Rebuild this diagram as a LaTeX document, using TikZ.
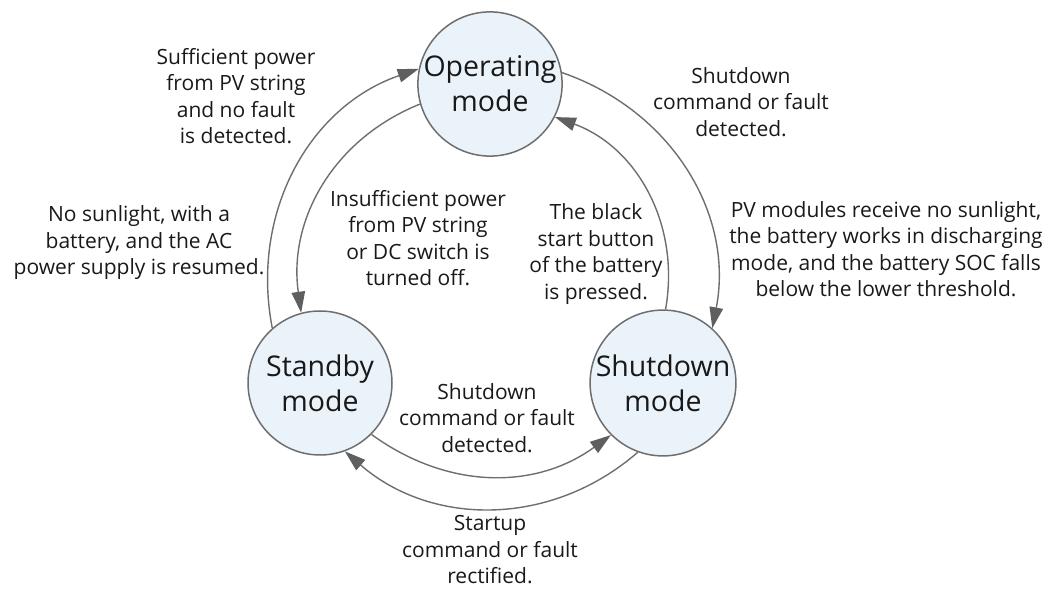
\documentclass[tikz,border=0pt]{standalone}
\usepackage{fontspec}
\setmainfont{Open Sans}
\usetikzlibrary{arrows.meta}
\definecolor{linegray}{RGB}{110,110,110}
\definecolor{tipgray}{RGB}{95,95,95}
\definecolor{circfill}{RGB}{235,243,250}
\definecolor{txt}{RGB}{25,25,25}
\begin{document}
\begin{tikzpicture}[x=1pt,y=1pt,
  mode/.style={circle,draw=linegray,line width=1.5pt,fill=circfill,minimum size=144pt,inner sep=0pt,align=center,text=txt,font=\fontsize{28.5}{35}\selectfont},
  lbl/.style={align=center,text=txt,inner sep=0pt,font=\fontsize{21}{26.5}\selectfont},
  conn/.style={draw=linegray,line width=1.4pt,-{Triangle[length=21pt,width=13.5pt,fill=tipgray,color=tipgray]}}]
\useasboundingbox (0,0) rectangle (1055,589);
\node[mode] (O) at (490,505) {Operating\\mode};
\node[mode] (S) at (320,206) {Standby\\mode};
\node[mode] (D) at (663,206) {Shutdown\\mode};

\draw[conn] (S.131) to[out=101,in=199] (O.168);
\draw[conn] (O.196) to[out=202,in=98] (S.105);
\draw[conn] (O.9) to[out=-19,in=79] (D.48);
\draw[conn] (D.88) to[out=80,in=340] (O.-27);
\draw[conn] (S.-45) to[out=-36,in=216] (D.225);
\draw[conn] (D.250) to[out=221,in=319] (S.290);

\node[lbl] (l1) at (236,493) {Sufficient power\\from PV string\\and no fault\\is detected.};
\node[lbl] (l2) at (741,487) {Shutdown\\command or fault\\detected.};
\node[lbl] (l3) at (886,340) {PV modules receive no sunlight,\\the battery works in discharging\\mode, and the battery SOC falls\\below the lower threshold.};
\node[lbl] (l4) at (139,346) {No sunlight, with a\\battery, and the AC\\power supply is resumed.};
\node[lbl] (l5) at (418,351) {Insufficient power\\from PV string\\or DC switch is\\turned off.};
\node[lbl] (l6) at (596,335) {The black\\start button\\of the battery\\is pressed.};
\node[lbl] (l7) at (487,171) {Shutdown\\command or fault\\detected.};
\node[lbl] (l8) at (490,39) {Startup\\command or fault\\rectified.};
\end{tikzpicture}
\end{document}
